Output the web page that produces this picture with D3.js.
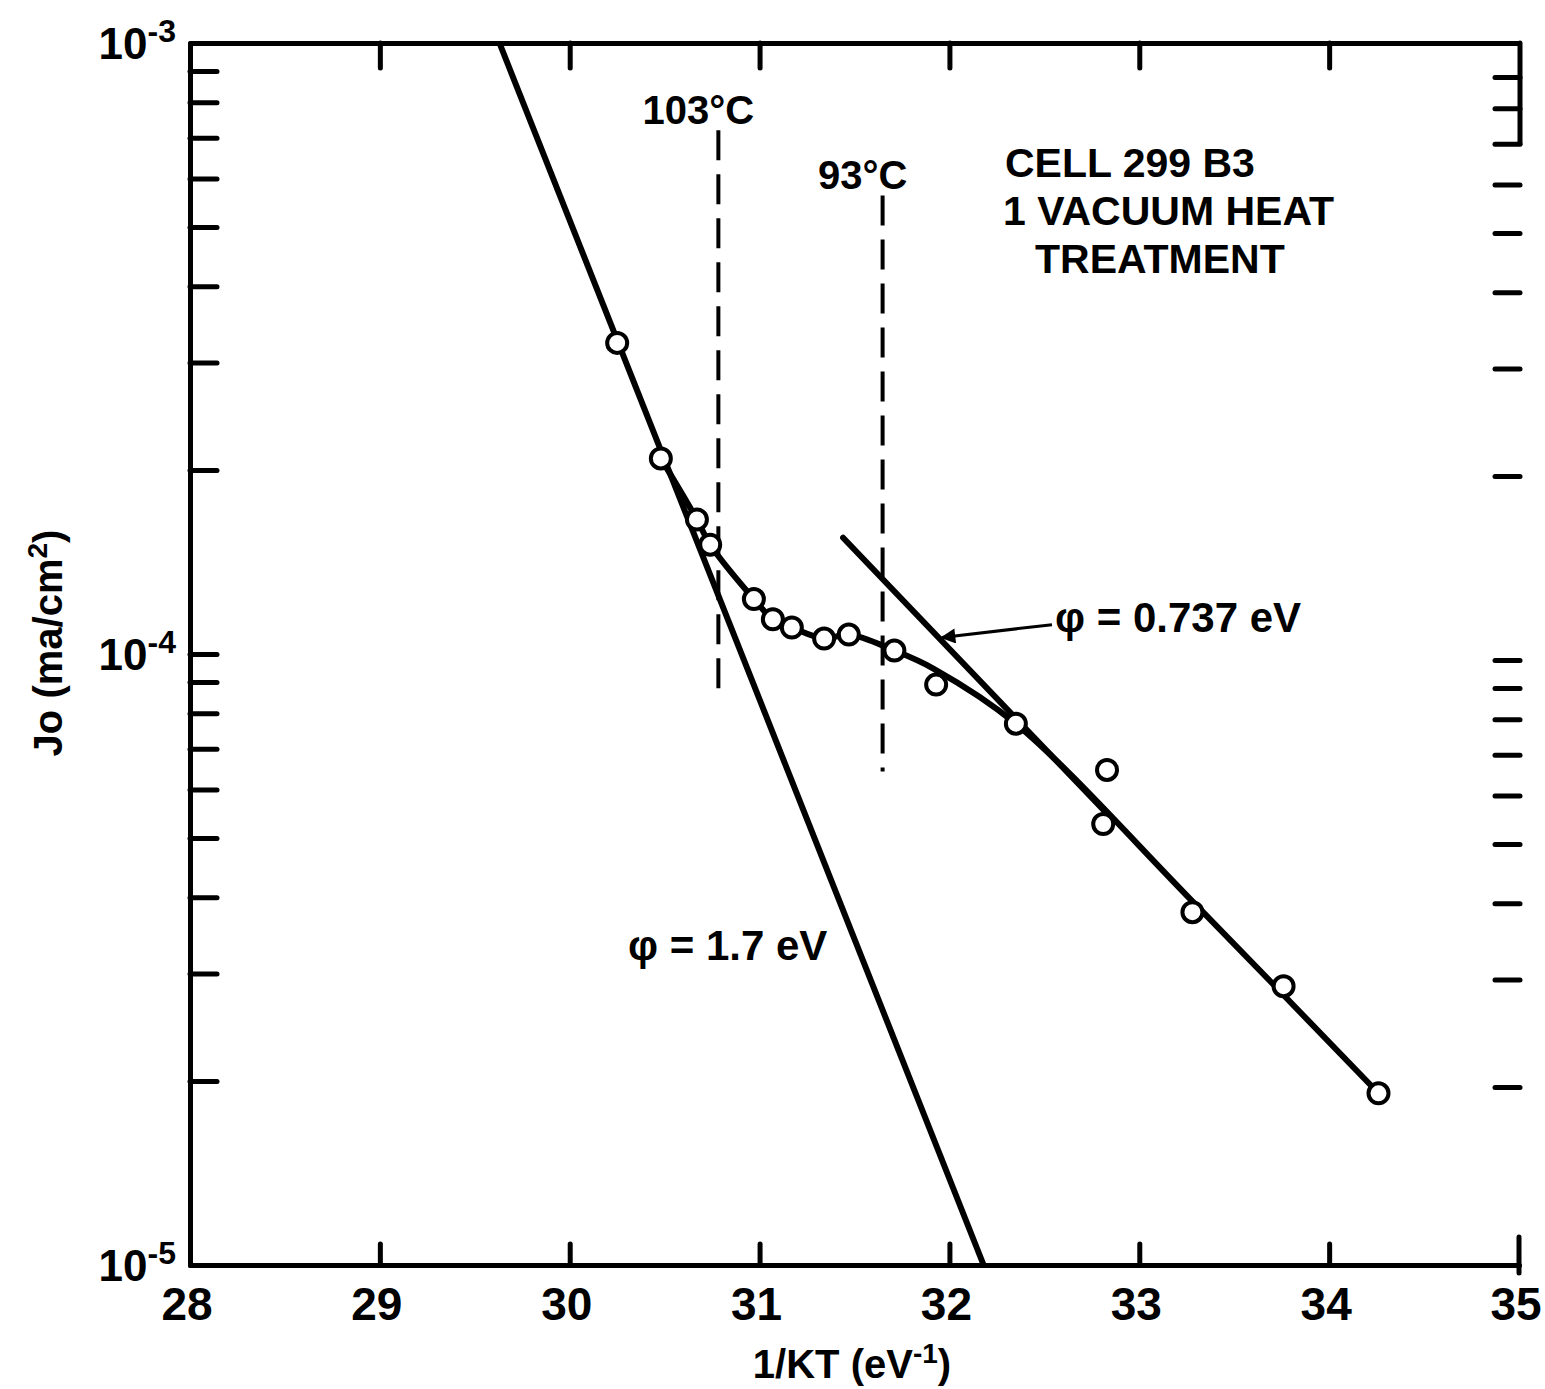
<!DOCTYPE html>
<html>
<head>
<meta charset="utf-8">
<script src="https://cdn.jsdelivr.net/npm/d3@7"></script>
<style>
  body { margin: 0; background: #fff; }
  text { font-family: "Liberation Sans", Arial, sans-serif; font-weight: bold; fill: #000; }
</style>
</head>
<body>
<div id="chart"></div>
<script>
// measured points: 1/kT (eV^-1) and Jo (ma/cm^2)
var invKT = [30.25, 30.48, 30.67, 30.74, 30.97, 31.07, 31.17, 31.34, 31.47, 31.71, 31.93, 32.35, 32.83, 32.81, 33.28, 33.76, 34.26];
var jo = [3.23e-4, 2.09e-4, 1.66e-4, 1.51e-4, 1.23e-4, 1.14e-4, 1.105e-4, 1.06e-4, 1.076e-4, 1.013e-4, 8.91e-5, 7.69e-5, 6.46e-5, 5.27e-5, 3.78e-5, 2.86e-5, 1.91e-5];

// hand drawn curve through the points
var fitX = [30.48, 30.67, 30.74, 30.97, 31.07, 31.17, 31.34, 31.47, 31.71, 31.92, 32.35, 33.3, 34.26];
var fitY = [2.09e-4, 1.66e-4, 1.51e-4, 1.23e-4, 1.14e-4, 1.105e-4, 1.06e-4, 1.076e-4, 1.013e-4, 9.45e-5, 7.69e-5, 3.88e-5, 1.91e-5];

// straight activation lines
var line17X = [29.63, 32.18];
var line17Y = [1e-3, 1e-5];
var line737X = [31.44, 32.81];
var line737Y = [1.55e-4, 5.56e-5];

// temperature markers
var tempLabels = ["103°C", "93°C"];
var tempX = [30.783, 31.648];
var tempTop = [7.2e-4, 5.63e-4];
var tempBottom = [8.52e-5, 6.42e-5];

// ticks
var xTicks = [28, 29, 30, 31, 32, 33, 34, 35];
var xInner = [29, 30, 31, 32, 33, 34];
var yMinor = [9e-4, 8e-4, 7e-4, 6e-4, 5e-4, 4e-4, 3e-4, 2e-4, 1e-4, 9e-5, 8e-5, 7e-5, 6e-5, 5e-5, 4e-5, 3e-5, 2e-5];
var yDecades = [1e-3, 1e-4, 1e-5];
var yDecadeExp = ["-3", "-4", "-5"];

var svgWidth = 1545;
var svgHeight = 1389;

var svg = d3.select("#chart")
  .append("svg")
  .attr("width", svgWidth)
  .attr("height", svgHeight);

var x = d3.scaleLinear().domain([28, 35]).range([190, 1519]);
var y = d3.scaleLog().domain([1e-5, 1e-3]).range([1265, 43]);

function styleAxis(g) {
  g.selectAll("path, line").attr("stroke", "#000").attr("stroke-width", 5).attr("stroke-linecap", "round");
  g.selectAll("text").remove();
}

// left axis, ticks pointing in
svg.append("g")
  .attr("transform", "translate(" + x(28) + ",0)")
  .call(d3.axisRight(y).tickValues(yMinor).tickSize(27).tickSizeOuter(0).tickFormat(""))
  .call(styleAxis);

// top axis
svg.append("g")
  .attr("transform", "translate(0," + y(1e-3) + ")")
  .call(d3.axisBottom(x).tickValues(xInner).tickSize(25).tickSizeOuter(0).tickFormat(""))
  .call(styleAxis);

// bottom axis
svg.append("g")
  .attr("transform", "translate(0," + y(1e-5) + ")")
  .call(d3.axisTop(x).tickValues(xInner).tickSize(21).tickSizeOuter(0).tickFormat(""))
  .call(styleAxis);

// right side: short ticks only, shifted a bit as on the original sheet
var right = svg.append("g")
  .attr("transform", "translate(" + (x(35) + 1) + ",6)")
  .call(d3.axisLeft(y).tickValues(yMinor).tickSize(25).tickSizeOuter(0).tickFormat(""))
  .call(styleAxis);
right.select(".domain").remove();

svg.append("line")
  .attr("x1", x(35) + 1).attr("x2", x(35) + 1)
  .attr("y1", y(1e-3)).attr("y2", y(7e-4) + 6)
  .attr("stroke", "#000").attr("stroke-width", 5).attr("stroke-linecap", "round");

svg.append("line")
  .attr("x1", x(35)).attr("x2", x(35))
  .attr("y1", y(1e-5) - 28).attr("y2", y(1e-5) + 8)
  .attr("stroke", "#000").attr("stroke-width", 5).attr("stroke-linecap", "round");

// x tick labels
svg.selectAll(".xlab")
  .data(xTicks)
  .enter()
  .append("text")
  .attr("class", "xlab")
  .attr("x", d => x(d) - 3)
  .attr("y", 1320)
  .attr("text-anchor", "middle")
  .attr("font-size", "46px")
  .text(d => d);

// y decade labels
var ylab = svg.selectAll(".ylab")
  .data(yDecades)
  .enter()
  .append("text")
  .attr("class", "ylab")
  .attr("x", 176)
  .attr("y", d => y(d) + 16)
  .attr("text-anchor", "end")
  .attr("font-size", "44px");
ylab.append("tspan").text("10");
ylab.append("tspan")
  .attr("dy", -17)
  .attr("font-size", "32px")
  .text((d, i) => yDecadeExp[i]);

// axis titles
svg.append("text")
  .attr("x", 852)
  .attr("y", 1378)
  .attr("text-anchor", "middle")
  .attr("font-size", "40px")
  .html('1/KT (eV<tspan dy="-15" font-size="28px">-1</tspan><tspan dy="15">)</tspan>');

svg.append("text")
  .attr("transform", "translate(62,643) rotate(-90)")
  .attr("text-anchor", "middle")
  .attr("font-size", "40px")
  .html('Jo (ma/cm<tspan dy="-15" font-size="28px">2</tspan><tspan dy="15">)</tspan>');

// dashed temperature lines
svg.selectAll(".temp")
  .data(tempX)
  .enter()
  .append("line")
  .attr("class", "temp")
  .attr("x1", d => x(d)).attr("x2", d => x(d))
  .attr("y1", (d, i) => y(tempTop[i]))
  .attr("y2", (d, i) => y(tempBottom[i]))
  .attr("stroke", "#000")
  .attr("stroke-width", 4)
  .attr("stroke-dasharray", "30,14");

svg.selectAll(".templab")
  .data(tempLabels)
  .enter()
  .append("text")
  .attr("class", "templab")
  .attr("x", (d, i) => x(tempX[i]) - 20)
  .attr("y", (d, i) => y(tempTop[i]) - 6)
  .attr("text-anchor", "middle")
  .attr("font-size", "40px")
  .text(d => d);

// lines
var lineGen = d3.line().x(d => x(d[0])).y(d => y(d[1]));

svg.append("path")
  .datum(d3.zip(line17X, line17Y))
  .attr("d", lineGen)
  .attr("fill", "none").attr("stroke", "#000").attr("stroke-width", 6);

svg.append("path")
  .datum(d3.zip(line737X, line737Y))
  .attr("d", lineGen)
  .attr("fill", "none").attr("stroke", "#000").attr("stroke-width", 6).attr("stroke-linecap", "round");

svg.append("path")
  .datum(d3.zip(fitX, fitY))
  .attr("d", lineGen.curve(d3.curveCatmullRom.alpha(0.5)))
  .attr("fill", "none").attr("stroke", "#000").attr("stroke-width", 6);

// open circles
svg.selectAll(".pt")
  .data(d3.zip(invKT, jo))
  .enter()
  .append("circle")
  .attr("class", "pt")
  .attr("cx", d => x(d[0]))
  .attr("cy", d => y(d[1]))
  .attr("r", 10)
  .attr("fill", "#fff")
  .attr("stroke", "#000")
  .attr("stroke-width", 4);

// annotations
svg.append("defs").append("marker")
  .attr("id", "arrow")
  .attr("viewBox", "0 0 10 10")
  .attr("refX", 9).attr("refY", 5)
  .attr("markerWidth", 7).attr("markerHeight", 5)
  .attr("orient", "auto")
  .append("path")
  .attr("d", "M0,0L10,5L0,10z")
  .attr("fill", "#000");

svg.append("line")
  .attr("x1", x(32.54)).attr("y1", y(1.117e-4))
  .attr("x2", x(31.96)).attr("y2", y(1.064e-4))
  .attr("stroke", "#000").attr("stroke-width", 3)
  .attr("marker-end", "url(#arrow)");

svg.append("text")
  .attr("x", 1055).attr("y", 632)
  .attr("font-size", "42px")
  .text("φ = 0.737 eV");

svg.append("text")
  .attr("x", 628).attr("y", 960)
  .attr("font-size", "42px")
  .text("φ = 1.7 eV");

var cell = ["CELL  299 B3", "1 VACUUM HEAT", "TREATMENT"];
var cellX = [1005, 1003, 1035];
svg.selectAll(".cell")
  .data(cell)
  .enter()
  .append("text")
  .attr("class", "cell")
  .attr("x", (d, i) => cellX[i])
  .attr("y", (d, i) => 177 + i * 48)
  .attr("font-size", "41px")
  .text(d => d);
</script>
</body>
</html>
